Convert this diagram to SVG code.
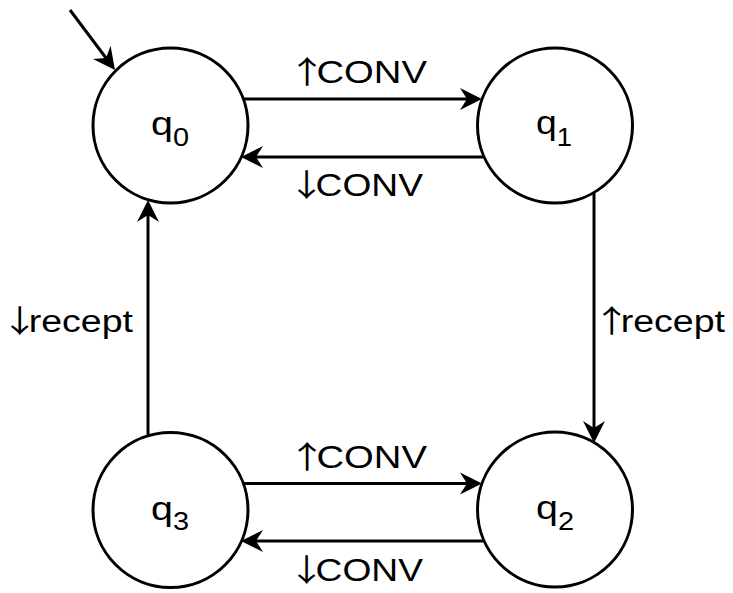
<svg xmlns="http://www.w3.org/2000/svg" width="733" height="593" viewBox="0 0 733 593">
<style>
  .st { fill: #ffffff; stroke: #000000; stroke-width: 3; }
  .e { fill: none; stroke: #000000; stroke-width: 3; marker-end: url(#ah); }
  .nl { font-family: "Liberation Sans", Arial, sans-serif; font-size: 34px; fill: #000; }
  .el { font-family: "Liberation Sans", Arial, sans-serif; font-size: 31px; fill: #000; }
  .ar { font-family: "Noto Sans CJK SC", "Liberation Sans", sans-serif; }
</style>
<defs>
  <marker id="ah" markerUnits="userSpaceOnUse" markerWidth="23" markerHeight="22" refX="7" refY="11" orient="auto" overflow="visible">
    <path d="M22,11 L0,0 L7,11 L0,22 Z" fill="#000"/>
  </marker>
</defs>
<rect width="733" height="593" fill="#ffffff"/>
<g id="edges">
  <line class="e" x1="70" y1="10" x2="106" y2="58"/>
  <line class="e" x1="243" y1="99" x2="467" y2="99"/>
  <line class="e" x1="484" y1="157" x2="256" y2="157"/>
  <line class="e" x1="243" y1="483.5" x2="467" y2="483.5"/>
  <line class="e" x1="484" y1="541" x2="256" y2="541"/>
  <line class="e" x1="148" y1="436" x2="148" y2="215"/>
  <line class="e" x1="594" y1="192" x2="594" y2="428"/>
  <text class="el" x="288" y="83" textLength="139" lengthAdjust="spacingAndGlyphs"><tspan class="ar">↑</tspan><tspan dx="-8">CONV</tspan></text>
  <text class="el" x="288" y="196" textLength="135" lengthAdjust="spacingAndGlyphs"><tspan class="ar">↓</tspan><tspan dx="-8">CONV</tspan></text>
  <text class="el" x="288" y="467.5" textLength="139" lengthAdjust="spacingAndGlyphs"><tspan class="ar">↑</tspan><tspan dx="-8">CONV</tspan></text>
  <text class="el" x="288" y="580.5" textLength="135" lengthAdjust="spacingAndGlyphs"><tspan class="ar">↓</tspan><tspan dx="-8">CONV</tspan></text>
  <text class="el" x="1" y="332" textLength="132" lengthAdjust="spacingAndGlyphs"><tspan class="ar">↓</tspan><tspan dx="-8">recept</tspan></text>
  <text class="el" x="593" y="332" textLength="132" lengthAdjust="spacingAndGlyphs"><tspan class="ar">↑</tspan><tspan dx="-8">recept</tspan></text>
</g>
<g id="q0">
  <circle class="st" cx="170.5" cy="125.5" r="77.5"/>
  <text class="nl" x="170" y="135" text-anchor="middle" textLength="38" lengthAdjust="spacingAndGlyphs">q<tspan dy="10.5" font-size="25">0</tspan></text>
</g>
<g id="q1">
  <circle class="st" cx="555" cy="125.5" r="77.5"/>
  <text class="nl" x="554" y="134" text-anchor="middle" textLength="36" lengthAdjust="spacingAndGlyphs">q<tspan dy="12" font-size="25">1</tspan></text>
</g>
<g id="q3">
  <circle class="st" cx="170.5" cy="510" r="77.5"/>
  <text class="nl" x="170" y="519.5" text-anchor="middle" textLength="38" lengthAdjust="spacingAndGlyphs">q<tspan dy="10.5" font-size="25">3</tspan></text>
</g>
<g id="q2">
  <circle class="st" cx="555" cy="509.5" r="77.5"/>
  <text class="nl" x="555" y="519" text-anchor="middle" textLength="38" lengthAdjust="spacingAndGlyphs">q<tspan dy="10.5" font-size="25">2</tspan></text>
</g>
</svg>
